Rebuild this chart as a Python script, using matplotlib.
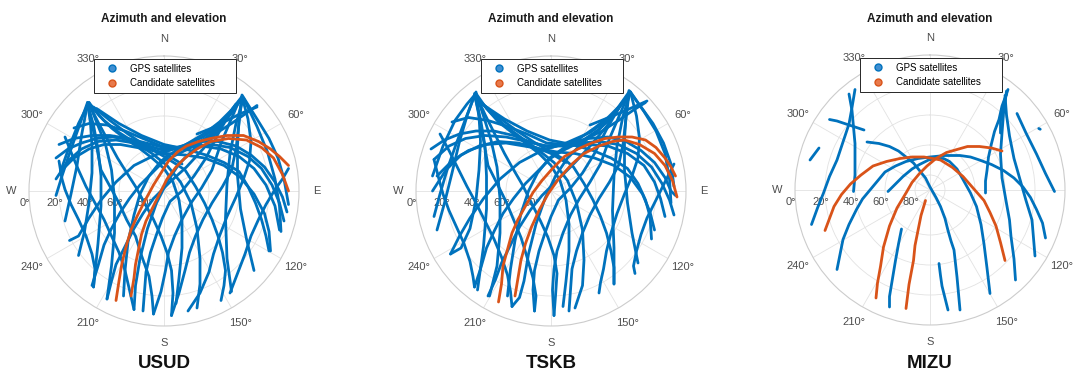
import numpy as np
import matplotlib
matplotlib.use("Agg")
import matplotlib.pyplot as plt
from matplotlib.lines import Line2D

plt.rcParams['font.family'] = ['Liberation Sans', 'DejaVu Sans']

stations = ["USUD", "TSKB", "MIZU"]
dir_labels = ["N", "30°", "60°", "E", "120°", "150°", "S", "210°", "240°", "W", "300°", "330°"]
elev_ticks = [0, 20, 40, 60, 80]
elev_labels = ["0°", "20°", "40°", "60°", "80°"]
legend_labels = ["GPS satellites", "Candidate satellites"]

# satellite tracks read off the skyplots:
# (east, north) offsets on the sky plane, in degrees of zenith distance
usud_gps = [
    [(-72, -3), (-68, 10), (-63, 25), (-57, 42), (-51, 59), (-49, 45), (-48, 30), (-48, 12), (-50, -8), (-53, -27), (-57, -43)],
    [(-66, -20), (-62, -2), (-58, 17), (-55, 37), (-51, 58), (-47, 44), (-44, 28), (-42, 10), (-42, -10), (-44, -35), (-47, -64)],
    [(-69, 13), (-63, 30), (-57, 45), (-50, 59), (-45, 46), (-39, 31), (-35, 14), (-33, -5), (-33, -28), (-35, -50), (-38, -72)],
    [(-51, 59), (-48, 45), (-45, 30), (-42, 14), (-36, 3), (-30, -8), (-25, -19), (-19, -30), (-15, -43), (-10, -57), (-8, -70), (-7, -82)],
    [(-50, 58), (-44, 46), (-37, 33), (-31, 22), (-26, 14), (-19, 3), (-13, -8), (-7, -19), (-2, -30), (2, -41), (5, -53), (6, -68), (5, -83)],
    [(-49, 57), (-40, 47), (-30, 39), (-19, 32), (-8, 25), (2, 17), (11, 6), (18, -8), (22, -25), (24, -45), (24, -62), (22, -78)],
    [(-50, 59), (-43, 50), (-35, 42), (-26, 35), (-17, 29), (-8, 22), (0, 15), (6, 6), (10, -6), (12, -20), (12, -38), (10, -58), (8, -75)],
    [(-66, 36), (-62, 26), (-57, 14), (-52, 3), (-46, -8), (-40, -19), (-35, -30), (-30, -41), (-26, -53), (-23, -66), (-20, -79)],
    [(-70, 20), (-68, 8), (-66, 1), (-62, -9), (-57, -19), (-52, -30), (-48, -42), (-46, -52), (-47, -64)],
    [(-47, 56), (-36, 47), (-24, 38), (-12, 30), (0, 23), (8, 18), (14, 14), (21, 3), (27, -8), (32, -19), (36, -30), (39, -41), (41, -53), (40, -63), (38, -73)],
    [(-45, 55), (-30, 45), (-15, 37), (0, 31), (14, 28), (28, 24), (40, 19), (50, 13), (56, 3), (61, -8), (65, -19), (68, -30), (70, -40)],
    [(-72, 22), (-64, 28), (-55, 32), (-45, 35), (-34, 36), (-22, 34), (-10, 30), (0, 27), (12, 30), (24, 33), (36, 33), (48, 30), (58, 24), (67, 16), (74, 6), (79, -4), (82, -14)],
    [(-70, 31), (-60, 35), (-48, 37), (-36, 37), (-24, 35), (-12, 32), (0, 29), (12, 29), (25, 30), (38, 28), (50, 23), (60, 15), (68, 4), (74, -10), (77, -26)],
    [(-69, 13), (-60, 22), (-50, 28), (-40, 31), (-29, 31), (-18, 29), (-8, 27), (2, 25), (14, 24), (27, 22), (40, 17), (51, 9), (60, -2), (67, -15), (70, -27), (71, -40)],
    [(-72, 8), (-64, 20), (-55, 28), (-44, 33), (-32, 34), (-20, 32), (-8, 28), (2, 24), (12, 18)],
    [(-60, 42), (-50, 45), (-38, 44), (-26, 40), (-14, 35), (-2, 30), (10, 29), (22, 32), (34, 38), (45, 45), (55, 52), (62, 57)],
    [(83, -9), (80, 8), (76, 22), (70, 35), (62, 48), (52, 64), (50, 48), (49, 30), (49, 10), (51, -12), (55, -32), (60, -53)],
    [(78, -27), (77, -10), (74, 8), (69, 26), (62, 43), (53, 62), (48, 45), (44, 25), (42, 5), (41, -18), (42, -45), (45, -67)],
    [(52, 63), (56, 48), (58, 33), (57, 20), (53, 8), (48, -4), (42, -17), (37, -30), (33, -42), (30, -54), (24, -68), (16, -80)],
    [(52, 62), (50, 45), (48, 28), (45, 14), (39, 3), (32, -8), (26, -19), (21, -30), (17, -41), (14, -53), (10, -68), (5, -83)],
    [(50, 60), (44, 46), (38, 32), (32, 14), (25, 2), (18, -8), (12, -19), (7, -30), (3, -41), (1, -53), (-2, -67), (-7, -82)],
    [(48, 58), (40, 47), (30, 37), (20, 28), (10, 18), (2, 6), (-5, -8), (-11, -25), (-16, -45), (-19, -63), (-20, -79)],
    [(52, 63), (45, 54), (37, 46), (28, 39), (18, 33), (8, 27), (-2, 20), (-10, 10), (-16, -2), (-20, -16), (-24, -34), (-26, -53), (-27, -70)],
    [(83, 15), (79, 8), (74, 1), (68, -9), (63, -19), (58, -30), (54, -42), (49, -55), (44, -68)],
    [(52, 62), (40, 46), (26, 36), (10, 29), (-6, 24), (-20, 17), (-32, 6), (-42, -6), (-50, -18), (-57, -30), (-63, -33)],
    [(50, 59), (42, 48), (32, 38), (20, 30), (8, 24), (0, 20), (-8, 12), (-16, 4), (-23, -5), (-29, -14), (-35, -25), (-40, -36), (-44, -50), (-48, -63)],
    [(46, 55), (36, 40), (26, 28), (15, 16), (4, 6), (-7, -5), (-14, -15), (-20, -25), (-26, -37), (-32, -49), (-35, -60), (-38, -72)],
    [(44, 52), (36, 38), (28, 22), (20, 10), (12, 0), (4, -7), (-1, -18), (-5, -29), (-9, -41), (-12, -54), (-13, -67), (-14, -80)],
    [(-4, 28), (8, 29), (20, 30), (32, 31), (44, 29), (56, 23), (65, 15), (72, 4), (77, -8), (80, -20)],
    [(22, 38), (32, 42), (42, 47), (52, 52), (62, 56)],
]
usud_cand = [
    [(-32, -73), (-30, -60), (-28, -48), (-25, -36), (-22, -26), (-18, -17), (-13, -7), (-7, 4), (-2, 12), (3, 20), (9, 26), (15, 30),
     (23, 33), (31, 35), (42, 37), (53, 37), (63, 33), (71, 28), (77, 23), (83, 17)],
    [(-22, -70), (-20, -58), (-19, -49), (-17, -39), (-15, -29), (-12, -20), (-8, -12), (-3, -2), (2, 8), (8, 16), (14, 22), (22, 28),
     (31, 33), (43, 35), (55, 34), (65, 29), (73, 22), (79, 11), (83, 0)],
]

tskb_gps = [
    [(-78, -17), (-74, -2), (-69, 15), (-63, 32), (-57, 48), (-50, 66), (-48, 50), (-47, 33), (-48, 14), (-50, -6), (-54, -25), (-60, -38), (-67, -42)],
    [(-76, -26), (-71, -8), (-66, 12), (-61, 33), (-56, 50), (-51, 64), (-47, 48), (-44, 30), (-43, 10), (-43, -12), (-45, -37), (-49, -66)],
    [(-79, 10), (-72, 30), (-64, 47), (-56, 58), (-50, 65), (-45, 50), (-40, 34), (-36, 16), (-34, -5), (-34, -28), (-36, -50), (-41, -70)],
    [(-51, 65), (-48, 50), (-45, 34), (-42, 17), (-36, 5), (-30, -7), (-25, -19), (-20, -31), (-16, -44), (-12, -58), (-10, -70), (-11, -80)],
    [(-50, 64), (-44, 51), (-37, 37), (-31, 25), (-26, 16), (-19, 4), (-13, -8), (-7, -20), (-2, -31), (2, -43), (4, -55), (3, -70), (2, -83)],
    [(-49, 62), (-40, 52), (-30, 43), (-19, 35), (-8, 27), (2, 19), (11, 7), (17, -8), (21, -26), (22, -46), (21, -63), (16, -78)],
    [(-50, 65), (-43, 55), (-35, 46), (-26, 39), (-17, 32), (-8, 25), (0, 17), (6, 7), (10, -6), (12, -22), (12, -40), (10, -60), (8, -77)],
    [(-74, 38), (-68, 27), (-62, 15), (-56, 3), (-50, -8), (-44, -20), (-38, -32), (-33, -44), (-29, -56), (-27, -67), (-26, -77)],
    [(-78, 21), (-75, 9), (-72, -2), (-68, -13), (-63, -24), (-58, -35), (-54, -47), (-52, -57), (-51, -64)],
    [(-80, 28), (-71, 34), (-61, 38), (-50, 40), (-38, 40), (-25, 37), (-12, 32), (0, 29), (12, 32), (25, 35), (38, 36), (50, 33), (60, 27), (69, 19), (76, 9), (80, 0), (83, -3)],
    [(-78, 21), (-68, 30), (-57, 35), (-44, 37), (-30, 36), (-16, 33), (-3, 30), (10, 30), (24, 31), (38, 30), (51, 25), (62, 17), (69, 6), (73, -5), (76, -17)],
    [(-76, 10), (-66, 20), (-55, 27), (-43, 31), (-30, 32), (-18, 30), (-7, 28), (4, 26), (16, 25), (29, 22), (42, 17), (53, 9), (61, -2), (66, -14), (69, -26)],
    [(-79, 0), (-70, 14), (-60, 24), (-48, 30), (-35, 33), (-22, 32), (-10, 29), (0, 25), (10, 19)],
    [(-66, 46), (-55, 49), (-42, 47), (-29, 43), (-16, 38), (-3, 32), (10, 31), (22, 34), (34, 40), (45, 47), (55, 54), (63, 59)],
    [(82, 3), (80, 18), (75, 32), (68, 45), (60, 56), (52, 67), (50, 52), (49, 34), (49, 14), (51, -8), (54, -28), (58, -48)],
    [(80, -8), (79, 8), (76, 25), (70, 40), (62, 53), (53, 66), (48, 50), (44, 30), (42, 10), (41, -13), (42, -38), (42, -62)],
    [(53, 66), (57, 50), (59, 35), (58, 22), (54, 10), (49, -2), (44, -15), (40, -28), (37, -40), (35, -52), (33, -61), (32, -68)],
    [(52, 65), (50, 48), (48, 31), (45, 17), (39, 6), (32, -5), (26, -16), (21, -28), (17, -40), (14, -52), (13, -66), (12, -80)],
    [(51, 63), (45, 49), (39, 35), (33, 18), (26, 6), (19, -5), (13, -16), (8, -28), (4, -40), (2, -52), (1, -66), (2, -83)],
    [(50, 62), (42, 51), (32, 41), (21, 32), (11, 22), (3, 10), (-4, -5), (-10, -22), (-15, -42), (-18, -60), (-21, -71), (-26, -77)],
    [(53, 66), (46, 57), (38, 49), (29, 42), (19, 35), (9, 29), (-1, 22), (-9, 12), (-15, 0), (-20, -15), (-24, -33), (-27, -52), (-29, -70)],
    [(82, 18), (78, 10), (74, 2), (69, -8), (64, -18), (60, -29), (57, -40), (55, -50), (56, -55)],
    [(52, 66), (40, 49), (26, 39), (10, 32), (-6, 27), (-21, 19), (-34, 8), (-45, -5), (-54, -18), (-61, -30), (-67, -42)],
    [(50, 62), (42, 51), (32, 41), (20, 33), (8, 27), (0, 22), (-8, 14), (-17, 5), (-25, -5), (-32, -15), (-38, -27), (-43, -38), (-47, -52), (-51, -64)],
    [(47, 58), (37, 43), (27, 31), (16, 19), (5, 8), (-6, -3), (-14, -13), (-21, -24), (-27, -36), (-33, -48), (-37, -59), (-42, -70)],
    [(45, 55), (37, 41), (29, 25), (21, 12), (13, 2), (5, -6), (0, -17), (-4, -28), (-8, -40), (-11, -53), (-12, -66), (-11, -80)],
    [(-4, 30), (8, 31), (20, 32), (32, 33), (45, 31), (57, 25), (67, 16), (74, 5), (79, -6), (82, -16)],
    [(26, 44), (36, 48), (46, 52), (55, 56), (64, 60)],
    [(-48, 60), (-36, 50), (-24, 41), (-12, 33), (0, 26), (9, 21), (15, 16), (22, 5), (28, -6), (33, -17), (37, -28), (40, -40), (42, -51), (42, -62)],
    [(-46, 58), (-31, 48), (-16, 40), (-1, 34), (14, 31), (28, 27), (40, 22), (51, 15), (58, 5), (63, -6), (66, -17), (67, -32)],
]
tskb_cand = [
    [(-35, -74), (-33, -62), (-32, -50), (-29, -39), (-26, -28), (-22, -19), (-17, -10), (-12, -1), (-6, 7), (1, 15), (9, 23), (18, 28),
     (27, 32), (36, 35), (45, 36), (54, 36), (63, 34), (70, 29), (76, 22), (80, 16), (83, 10)],
    [(-24, -70), (-22, -58), (-20, -46), (-17, -35), (-13, -24), (-8, -13), (-2, -2), (5, 8), (14, 18), (22, 25), (32, 30), (41, 33),
     (49, 34), (59, 31), (69, 25), (76, 17), (81, 7), (84, -4)],
]

mizu_gps = [
    [(-42, 32), (-34, 31), (-27, 29), (-21, 26), (-16, 22), (-11, 18), (-7, 13), (-3, 8), (0, 2), (4, -5), (7, -11), (10, -19), (12, -27),
     (14, -34), (16, -40), (17, -49), (18, -58), (19, -69), (20, -80)],
    [(6, -49), (7, -57), (8, -64), (10, -72), (12, -80)],
    [(-19, -26), (-21, -36), (-23, -47), (-25, -59), (-27, -71), (-27, -78)],
    [(-62, -53), (-60, -43), (-58, -33), (-54, -23), (-49, -13), (-45, -6), (-40, 0), (-35, 6), (-30, 12), (-23, 16), (-16, 19), (-8, 21),
     (0, 22), (10, 23), (20, 23), (27, 22), (33, 20), (41, 17), (49, 13), (56, 8), (62, 2), (67, -5), (71, -13), (75, -22), (77, -32)],
    [(-28, -1), (-23, 4), (-18, 9), (-12, 14), (-7, 17), (-1, 20), (4, 21), (9, 21), (13, 19), (18, 14), (22, 7), (27, -2), (31, -11),
     (34, -23), (36, -36), (38, -52), (40, -69)],
    [(37, -2), (37, 6), (38, 13), (39, 22), (41, 31), (43, 39), (46, 47), (48, 56), (51, 64)],
    [(47, 38), (47, 46), (48, 53), (50, 61), (52, 67)],
    [(51, 66), (50, 58), (49, 51), (48, 38), (47, 24), (48, 8), (51, -9), (53, -20), (54, -31), (56, -46), (57, -60)],
    [(50, 63), (51, 50), (53, 36), (56, 21), (60, 7), (64, -7), (68, -20), (69, -32), (70, -44)],
    [(58, 51), (64, 38), (71, 24), (77, 11), (83, -1)],
    [(72.5, 41), (73.5, 40.5)],
    [(-79, -23), (-75, -12), (-71, -2), (-67, 9), (-62, 20), (-58, 32), (-54, 44), (-52, 55), (-50, 67)],
    [(-54, 64), (-52, 53), (-51, 42), (-50, 31), (-50, 20), (-50, 10), (-51, -1)],
    [(-67, 47), (-62, 46), (-56, 44), (-50, 42), (-44, 40)],
    [(-80, 20), (-77, 24), (-74, 28)],
]
mizu_cand = [
    [(-70, -27), (-67, -19), (-64, -11), (-59, -3), (-53, 4), (-46, 10), (-38, 16), (-29, 19), (-20, 21), (-12, 22), (-4, 22), (2, 21),
     (7, 20), (15, 15), (22, 9), (29, 1), (36, -7), (40, -15), (44, -24), (47, -35), (50, -47)],
    [(-36, -72), (-35, -62), (-33, -51), (-31, -38), (-27, -24), (-22, -12), (-16, -2), (-12, 5), (-7, 11), (-2, 16), (4, 21), (11, 25),
     (18, 27), (25, 29), (33, 29), (41, 28), (48, 26)],
    [(-16, -79), (-14, -63), (-11, -47), (-10, -37), (-8, -27), (-6, -17), (-3, -7)],
]

gps_tracks = [usud_gps, tskb_gps, mizu_gps]
cand_tracks = [usud_cand, tskb_cand, mizu_cand]

blue = '#0072BD'
orange = '#D95319'
W, H = 1073, 376
R = 135
centers = [(164, 191), (551, 191), (930, 190)]


def to_polar(track):
    en = np.array(track, dtype=float)
    az = np.arctan2(en[:, 0], en[:, 1])
    zen = np.hypot(en[:, 0], en[:, 1])
    return az, zen


fig = plt.figure(figsize=(W / 100, H / 100), dpi=100)

for name, gps, cand, (cx, cy) in zip(stations, gps_tracks, cand_tracks, centers):
    ax = fig.add_axes([(cx - R) / W, (H - cy - R) / H, 2 * R / W, 2 * R / H], projection='polar')
    ax.set_theta_zero_location('N')
    ax.set_theta_direction(-1)
    ax.set_ylim(0, 90)
    ax.set_thetagrids(np.arange(0, 360, 30), dir_labels, fontsize=8, color='#4d4d4d')
    ax.set_rgrids([90 - e for e in elev_ticks[1:]], labels=[''] * 4)
    ax.tick_params(axis='x', pad=2)
    ax.grid(color='#e2e2e2', linewidth=0.6)
    ax.spines['polar'].set_color('#cccccc')
    ax.spines['polar'].set_linewidth(0.8)

    for el, lab in zip(elev_ticks, elev_labels):
        ax.annotate(lab, xy=(np.radians(270), 90 - el), xytext=(-3, -8.5),
                    textcoords='offset points', ha='center', va='center',
                    fontsize=8, color='#4d4d4d')

    for tr in gps:
        az, zen = to_polar(tr)
        ax.plot(az, zen, color=blue, lw=2.0, solid_capstyle='round',
                solid_joinstyle='round', zorder=3)
    for tr in cand:
        az, zen = to_polar(tr)
        ax.plot(az, zen, color=orange, lw=2.0, solid_capstyle='round',
                solid_joinstyle='round', zorder=4)

    handles = [Line2D([], [], ls='none', marker='o', ms=5, mfc='#3f8fd2', mec=blue),
               Line2D([], [], ls='none', marker='o', ms=5, mfc='#e8794b', mec=orange)]
    leg = ax.legend(handles, legend_labels, loc='upper left',
                    bbox_to_anchor=(0.241, 0, 0.526, 0.989), mode='expand',
                    borderaxespad=0, fontsize=7, frameon=True, fancybox=False,
                    edgecolor='#262626', framealpha=1, handlelength=2.6,
                    handletextpad=0.6, borderpad=0.5, labelspacing=0.45)
    leg.get_frame().set_linewidth(0.7)
    leg.set_zorder(10)

    fig.text(cx / W, 1 - 19 / H, "Azimuth and elevation", ha='center', va='center',
             fontsize=8.5, fontweight='bold', color='#1a1a1a')
    fig.text(cx / W, 1 - 364 / H, name, ha='center', va='center',
             fontsize=13.5, fontweight='bold', color='#111111')

fig.savefig('out.png', dpi=100)
